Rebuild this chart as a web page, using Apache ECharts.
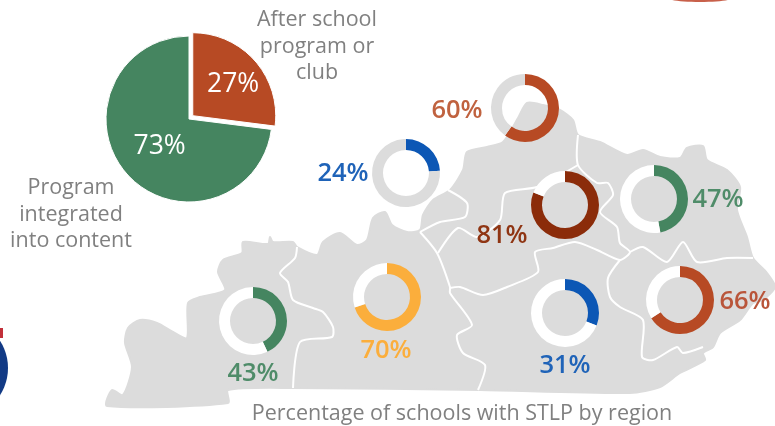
<!DOCTYPE html>
<html>
<head>
<meta charset="utf-8">
<style>
html, body { margin: 0; padding: 0; background: #fff; }
#main { width: 775px; height: 426px; }
</style>
<script src="https://cdn.jsdelivr.net/npm/echarts@6/dist/echarts.min.js"></script>
</head>
<body>
<div id="main"></div>
<script>
// program type split
var programNames = ['After school program or club', 'Program integrated into content'];
var programValues = [27, 73];

// percentage of schools with STLP, one value per region donut
var regionValues = [60, 24, 47, 81, 66, 31, 43, 70];

var captionProgram = ['After school', 'program or', 'club'];
var captionIntegrated = ['Program', 'integrated', 'into content'];
var captionMap = 'Percentage of schools with STLP by region';

var FONT = '"Open Sans", "Noto Sans", sans-serif';
var GREEN = '#458560';
var RUST = '#b74a24';
var BLUE = '#0c57b5';
var DARK = '#8b2c0a';
var ORANGE = '#fbae3c';
var TRACK_GREY = '#dcdcdc';

// same order as regionValues: centre, label centre, colours
var donutLayout = [
    { c: [525, 108], l: [457, 111], color: RUST, track: TRACK_GREY, text: '#c0623f' },
    { c: [406, 173], l: [343, 174], color: BLUE, track: TRACK_GREY, text: '#1f63b8' },
    { c: [654, 199], l: [718, 200], color: GREEN, track: '#fff', text: '#4f8c69' },
    { c: [565, 205], l: [502, 236], color: DARK, track: '#fff', text: '#8f3513' },
    { c: [680, 300], l: [745, 302], color: RUST, track: '#fff', text: '#b9553a' },
    { c: [565, 313], l: [565, 366], color: BLUE, track: '#fff', text: '#1f63b8' },
    { c: [253, 321], l: [253, 374], color: GREEN, track: '#fff', text: '#4f8c69' },
    { c: [387, 297], l: [386, 351], color: ORANGE, track: '#fff', text: '#fbae3c' }
];

// nudges for the two labels of the big pie
var programLabelShift = [{ dx: 7, dy: -2 }, { dx: 4, dy: -2 }];

// background shape of the state, screen pixels
var mapOutline = [
    [107, 406], [112, 390], [123, 395], [132, 367], [125, 343], [128, 328], [140, 320],
    [157, 323], [173, 332], [187, 338], [188, 303], [200, 297], [225, 290], [218, 272],
    [223, 260], [242, 253], [243, 242], [268, 244], [270, 237], [273, 242], [293, 242],
    [297, 247], [317, 255], [323, 242], [340, 233], [357, 245], [367, 240], [373, 218],
    [385, 212], [392, 225], [407, 232], [420, 230], [423, 215], [433, 200], [450, 190],
    [463, 170], [467, 152], [487, 147], [503, 142], [518, 118], [527, 103], [543, 105],
    [560, 110], [573, 120], [578, 135], [600, 142], [627, 155], [643, 150], [660, 157],
    [680, 158], [687, 148], [703, 146], [707, 160], [727, 170], [740, 187], [737, 210],
    [747, 237], [753, 258], [767, 273], [775, 287], [763, 300], [753, 303], [740, 320],
    [720, 333], [713, 347], [703, 353], [705, 360], [680, 373], [660, 387], [630, 393],
    [480, 390], [293, 388], [228, 390], [228, 403]
];

var mapBorders = [
    [[297, 247], [295, 258], [280, 273], [288, 282], [293, 300], [313, 308], [323, 312],
        [333, 327], [332, 337], [300, 342], [293, 388]],
    [[420, 232], [437, 253], [450, 287], [450, 293], [472, 325], [457, 335], [463, 353],
        [485, 365], [478, 390]],
    [[448, 190], [467, 203], [465, 217], [440, 222], [420, 232]],
    [[438, 253], [458, 228], [477, 237], [500, 220], [505, 193], [537, 187], [578, 165]],
    [[578, 135], [578, 165], [597, 183], [608, 183], [613, 195], [600, 212], [617, 227],
        [620, 243], [630, 252], [620, 260], [597, 250], [575, 242], [553, 248], [535, 252],
        [538, 272], [507, 287], [483, 295], [460, 287], [450, 288]],
    [[630, 252], [643, 247], [667, 262], [683, 242], [697, 262], [727, 258], [753, 258]],
    [[620, 260], [608, 278], [610, 297], [620, 307], [643, 320], [642, 357], [653, 360],
        [677, 347], [683, 353], [703, 347]]
];

function captionGraphic(lines, x, top, step) {
    return lines.map(function (line, i) {
        return {
            type: 'text',
            silent: true,
            style: {
                x: x,
                y: top + i * step,
                text: line,
                fill: '#808080',
                font: '21.5px ' + FONT,
                align: 'center',
                verticalAlign: 'middle'
            }
        };
    });
}

function buildGraphic() {
    var items = [];
    // cut off artwork at the page edges
    items.push({ type: 'circle', silent: true, shape: { cx: -42, cy: 368, r: 50 }, style: { fill: '#123a85' } });
    items.push({ type: 'rect', silent: true, shape: { x: 0, y: 328, width: 3, height: 10 }, style: { fill: '#c2303a' } });
    items.push({ type: 'ellipse', silent: true, shape: { cx: 700, cy: -2, rx: 32, ry: 4 }, style: { fill: '#c8604a' } });

    items.push({
        type: 'polygon',
        silent: true,
        shape: { points: mapOutline, smooth: 0.25 },
        style: { fill: TRACK_GREY, stroke: TRACK_GREY, lineWidth: 2, lineJoin: 'round' }
    });
    mapBorders.forEach(function (points) {
        items.push({
            type: 'polyline',
            silent: true,
            shape: { points: points, smooth: 0.25 },
            style: { fill: null, stroke: '#fff', lineWidth: 2, lineJoin: 'round' }
        });
    });
    items = items.concat(captionGraphic(captionProgram, 317, 20, 26.5));
    items = items.concat(captionGraphic(captionIntegrated, 71, 188, 26.5));
    items = items.concat(captionGraphic([captionMap], 462, 414, 0));
    return items;
}

function buildDonuts() {
    return regionValues.map(function (value, i) {
        var pos = donutLayout[i];
        return {
            type: 'pie',
            silent: true,
            z: 3,
            center: pos.c,
            radius: [23, 34],
            startAngle: 90,
            clockwise: true,
            labelLine: { show: false },
            data: [
                {
                    value: value,
                    itemStyle: { color: pos.color },
                    label: {
                        show: true,
                        position: 'center',
                        formatter: '{c}%',
                        offset: [pos.l[0] - pos.c[0], pos.l[1] - pos.c[1]],
                        color: pos.text,
                        fontFamily: FONT,
                        fontSize: 25.5,
                        fontWeight: 600
                    }
                },
                { value: 100 - value, itemStyle: { color: pos.track }, label: { show: false } }
            ]
        };
    });
}

var myChart = echarts.init(document.getElementById('main'));

var option = {
    animation: false,
    backgroundColor: '#fff',
    graphic: { elements: buildGraphic() },
    series: [{
        type: 'pie',
        silent: true,
        z: 3,
        center: [189, 119],
        radius: [0, 83],
        startAngle: 90,
        selectedMode: 'single',
        selectedOffset: 5,
        itemStyle: { borderColor: '#fff', borderWidth: 1 },
        labelLine: { show: false },
        label: {
            show: true,
            position: 'inside',
            formatter: '{c}%',
            color: '#fff',
            fontFamily: FONT,
            fontSize: 26.5
        },
        labelLayout: function (params) {
            return programLabelShift[params.dataIndex];
        },
        data: [
            { name: programNames[0], value: programValues[0], selected: true, itemStyle: { color: RUST } },
            { name: programNames[1], value: programValues[1], itemStyle: { color: GREEN } }
        ]
    }].concat(buildDonuts())
};

myChart.setOption(option);
</script>
</body>
</html>
